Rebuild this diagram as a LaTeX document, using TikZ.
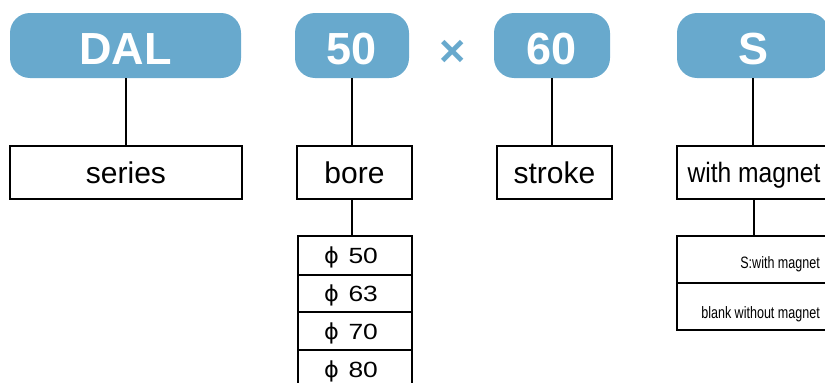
\documentclass[tikz,border=0pt]{standalone}
\usepackage{fontspec}
\setmainfont{Liberation Sans}
\newfontfamily\phifont{DejaVu Sans}
\usepackage{graphicx}
\definecolor{pillblue}{RGB}{104,169,205}
\newcommand{\myphi}{{\phifont\scalebox{0.85}[1]{ϕ}}}
\newcommand{\phirow}[1]{\scalebox{1.2}[1]{\myphi\hspace{8pt}#1}\hspace*{8pt}}
\begin{document}
\begin{tikzpicture}[x=1pt,y=-1pt,
  pill/.style={rectangle, rounded corners=20pt, fill=pillblue, text=white,
    font=\fontsize{45}{45}\selectfont\bfseries, minimum height=65pt,
    inner sep=0pt, text height=38pt, text depth=0pt},
  box/.style={rectangle, draw=black, line width=2pt, minimum height=53pt,
    inner sep=0pt, font=\fontsize{30}{30}\selectfont, text height=22pt, text depth=0pt},
  rowbox/.style={rectangle, draw=black, line width=2pt, minimum width=114pt,
    inner sep=0pt, font=\fontsize{22}{22}\selectfont, text height=16pt, text depth=0pt},
  magrow/.style={rectangle, draw=black, line width=2pt, minimum width=154pt,
    minimum height=47pt, inner sep=0pt},
  small/.style={inner sep=0pt, font=\fontsize{16.5}{16.5}\selectfont},
  conn/.style={line width=2pt}]
\useasboundingbox (0,0) rectangle (825,383);

% pills
\node[pill, minimum width=231pt] (dal) at (125.5,45.5) {DAL};
\node[pill, minimum width=114pt] (p50) at (352,45.5) {50};
\node[inner sep=0pt, text=pillblue, font=\fontsize{45}{45}\selectfont\bfseries] (times) at (453,53) {×};
\node[pill, minimum width=116pt] (p60) at (552,45.5) {60};
\node[pill, minimum width=152pt] (ps) at (753,45.5) {S};

% boxes
\node[box, minimum width=232pt] (series) at (126,172.5) {series};
\node[box, minimum width=115pt] (bore) at (354.5,172.5) {bore};
\node[box, minimum width=115pt] (stroke) at (554.5,172.5) {stroke};
\node[box, minimum width=154pt, font=\fontsize{28}{28}\selectfont, text height=20pt] (mag) at (754,172.5) {\scalebox{0.88}[1]{with magnet}};

% bore rows
\node[rowbox, minimum height=39pt] (r1) at (355,255.5) {\phirow{50}};
\node[rowbox, minimum height=37pt] (r2) at (355,293.5) {\phirow{63}};
\node[rowbox, minimum height=38pt] (r3) at (355,331) {\phirow{70}};
\node[rowbox, minimum height=38pt] (r4) at (355,369) {\phirow{80}};

% magnet rows
\node[magrow] (m1) at (754,259.5) {};
\node[magrow] (m2) at (754,306.5) {};
\node[small, anchor=base east] (t1) at (820,268) {\scalebox{0.76}[1]{S:with magnet}};
\node[small, anchor=base east] (t2) at (820,318) {\scalebox{0.76}[1]{blank without magnet}};

% connectors
\draw[conn] (dal.south) -- (dal.south |- series.north);
\draw[conn] (p50.south) -- (p50.south |- bore.north);
\draw[conn] (p50.south |- bore.south) -- (p50.south |- r1.north);
\draw[conn] (p60.south) -- (p60.south |- stroke.north);
\draw[conn] (ps.south) -- (ps.south |- mag.north);
\draw[conn] (mag.south) -- (mag.south |- m1.north);
\end{tikzpicture}
\end{document}
